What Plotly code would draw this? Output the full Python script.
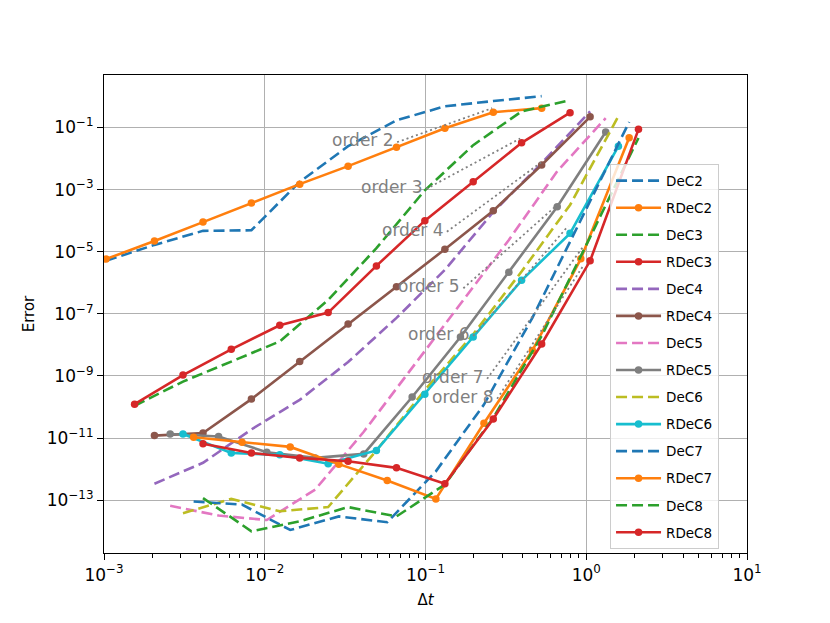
import math
import plotly.graph_objects as go

# time steps (effective dt) per scheme order
dt2 = [0.00103, 0.00206, 0.00413, 0.00826, 0.0165, 0.0330, 0.0660, 0.132, 0.264, 0.528]
dt3 = [0.00155, 0.00310, 0.00619, 0.0124, 0.0248, 0.0495, 0.0991, 0.198, 0.396, 0.793]
dt4 = [0.00206, 0.00413, 0.00826, 0.0165, 0.0330, 0.0660, 0.132, 0.264, 0.528, 1.057]
dt5 = [0.00258, 0.00516, 0.0103, 0.0206, 0.0413, 0.0826, 0.165, 0.330, 0.660, 1.321]
dt6 = [0.00310, 0.00619, 0.0124, 0.0248, 0.0495, 0.0991, 0.198, 0.396, 0.793, 1.585]
dt7 = [0.00361, 0.00722, 0.0144, 0.0289, 0.0578, 0.116, 0.231, 0.462, 0.925, 1.849]
dt8 = [0.00413, 0.00826, 0.0165, 0.0330, 0.0660, 0.132, 0.264, 0.528, 1.057, 2.113]

err_DeC2 = [5.1e-6, 1.66e-5, 4.7e-5, 4.9e-5, 1.78e-3, 2.5e-2, 0.17, 0.48, 0.71, 1.02]
err_RDeC2 = [5.8e-6, 2.2e-5, 9.0e-5, 3.7e-4, 1.5e-3, 5.7e-3, 2.33e-2, 9.5e-2, 0.31, 0.42]
err_DeC3 = [1.1e-10, 6.6e-10, 2.9e-9, 1.3e-8, 2.8e-7, 1.3e-5, 9.5e-4, 2.7e-2, 0.33, 0.76]
err_RDeC3 = [1.23e-10, 1.07e-9, 7.2e-9, 4.3e-8, 1.1e-7, 3.5e-6, 1.0e-4, 1.78e-3, 3.2e-2, 0.30]
err_DeC4 = [3.4e-13, 1.6e-12, 1.9e-11, 1.7e-10, 2.8e-9, 7.4e-8, 2.6e-6, 1.9e-4, 7.1e-3, 0.33]
err_RDeC4 = [1.2e-11, 1.45e-11, 1.8e-10, 2.9e-9, 4.7e-8, 7.4e-7, 1.2e-5, 2.1e-4, 6.2e-3, 0.22]
err_DeC5 = [6.6e-14, 3.2e-14, 2.3e-14, 2.2e-13, 1.6e-11, 1.8e-9, 2.2e-7, 2.4e-5, 3.9e-3, 0.20]
err_RDeC5 = [1.35e-11, 1.12e-11, 3.5e-12, 2.3e-12, 3.1e-12, 2.1e-10, 1.8e-8, 2.2e-6, 2.8e-4, 7.2e-2]
err_DeC6 = [3.8e-14, 1.1e-13, 4.4e-14, 6.0e-14, 4.0e-12, 3.5e-10, 2.2e-8, 2.3e-6, 3.2e-4, 0.23]
err_RDeC6 = [1.35e-11, 3.3e-12, 2.9e-12, 1.5e-12, 4.0e-12, 2.6e-10, 1.8e-8, 1.2e-6, 3.9e-5, 2.5e-2]
err_DeC7 = [9.1e-14, 7.2e-14, 1.1e-14, 3.0e-14, 1.95e-14, 8.5e-13, 1.2e-10, 7.4e-8, 1.05e-4, 0.15]
err_RDeC7 = [1.07e-11, 7.4e-12, 5.2e-12, 1.45e-12, 4.3e-13, 1.1e-13, 3.0e-11, 6.6e-9, 5.9e-6, 4.7e-2]
err_DeC8 = [1.17e-13, 1.0e-14, 2.1e-14, 6.0e-14, 3.0e-14, 3.2e-13, 4.5e-11, 1.95e-8, 2.95e-5, 4.6e-2]
err_RDeC8 = [6.6e-12, 3.3e-12, 2.3e-12, 1.8e-12, 1.1e-12, 3.4e-13, 4.1e-11, 1.07e-8, 5.1e-6, 8.7e-2]

# reference slope lines
ref_labels = ["order 2", "order 3", "order 4", "order 5", "order 6", "order 7", "order 8"]
ref_x0 = [0.0666, 0.101, 0.1358, 0.172, 0.198, 0.2417, 0.279]
ref_x1 = [0.2597, 0.388, 0.529, 0.640, 0.771, 0.956, 0.956]
ref_y0 = [3.37e-2, 1.05e-3, 4.4e-5, 6.65e-7, 1.95e-8, 8.1e-10, 1.84e-10]
ref_y1 = [0.418, 4.43e-2, 7.8e-3, 2.8e-4, 6.7e-5, 1.45e-5, 3.5e-6]

x_tickvals = [1e-3, 1e-2, 1e-1, 1, 10]
x_ticktext = ["10<sup>−3</sup>", "10<sup>−2</sup>", "10<sup>−1</sup>", "10<sup>0</sup>", "10<sup>1</sup>"]
y_tickvals = [1e-13, 1e-11, 1e-9, 1e-7, 1e-5, 1e-3, 1e-1]
y_ticktext = ["10<sup>−13</sup>", "10<sup>−11</sup>", "10<sup>−9</sup>", "10<sup>−7</sup>",
              "10<sup>−5</sup>", "10<sup>−3</sup>", "10<sup>−1</sup>"]
x_minor = [m * d for d in [1e-3, 1e-2, 1e-1, 1] for m in range(2, 10)]

series = [
    ("DeC2", dt2, err_DeC2, "#1f77b4", True),
    ("RDeC2", dt2, err_RDeC2, "#ff7f0e", False),
    ("DeC3", dt3, err_DeC3, "#2ca02c", True),
    ("RDeC3", dt3, err_RDeC3, "#d62728", False),
    ("DeC4", dt4, err_DeC4, "#9467bd", True),
    ("RDeC4", dt4, err_RDeC4, "#8c564b", False),
    ("DeC5", dt5, err_DeC5, "#e377c2", True),
    ("RDeC5", dt5, err_RDeC5, "#7f7f7f", False),
    ("DeC6", dt6, err_DeC6, "#bcbd22", True),
    ("RDeC6", dt6, err_RDeC6, "#17becf", False),
    ("DeC7", dt7, err_DeC7, "#1f77b4", True),
    ("RDeC7", dt7, err_RDeC7, "#ff7f0e", False),
    ("DeC8", dt8, err_DeC8, "#2ca02c", True),
    ("RDeC8", dt8, err_RDeC8, "#d62728", False),
]

fig = go.Figure()
for name, dt, err, color, dashed in series:
    fig.add_trace(go.Scatter(
        x=dt, y=err, name=name, legendgroup=name,
        mode="lines" if dashed else "lines+markers",
        line=dict(color=color, width=2.6, dash="11px,5px" if dashed else "solid"),
        marker=dict(size=7.5, color=color),
    ))

for lab, xa, xb, ya, yb in zip(ref_labels, ref_x0, ref_x1, ref_y0, ref_y1):
    fig.add_trace(go.Scatter(
        x=[xa, xb], y=[ya, yb], mode="lines", showlegend=False,
        line=dict(color="#808080", width=1.8, dash="2px,3px"),
    ))
    fig.add_annotation(x=math.log10(xa), y=math.log10(ya), xref="x", yref="y",
                       text=lab, showarrow=False,
                       xanchor="right", yanchor="middle", xshift=-1, yshift=2,
                       font=dict(size=17, color="#808080", family="DejaVu Sans"))

axis_common = dict(
    type="log", showgrid=True, gridcolor="#b0b0b0", gridwidth=1,
    ticks="outside", ticklen=6, tickwidth=1, tickcolor="black",
    showline=True, mirror=True, linecolor="black", linewidth=1.2,
    zeroline=False, tickfont=dict(size=17, color="black", family="DejaVu Sans"),
)

# the page body adds an 8px offset, so the figure is sized to fit the window
fig.update_layout(
    width=822, height=615,
    margin=dict(l=96, r=83, t=67, b=70),
    paper_bgcolor="white", plot_bgcolor="white",
    font=dict(family="DejaVu Sans", size=15, color="black"),
    xaxis=dict(axis_common, range=[-3, 1], tickmode="array", tickvals=x_tickvals,
               ticktext=x_ticktext,
               minor=dict(tickmode="array", tickvals=x_minor, ticks="outside", ticklen=3.5,
                          tickcolor="black", showgrid=False),
               title=dict(text="Δ<i>t</i>", font=dict(size=15), standoff=10)),
    yaxis=dict(axis_common, range=[-14.70, 0.69], tickmode="array", tickvals=y_tickvals,
               ticktext=y_ticktext,
               title=dict(text="Error", font=dict(size=15), standoff=8)),
    legend=dict(x=0.787, y=0.813, xanchor="left", yanchor="top",
                bgcolor="rgba(255,255,255,0.8)", bordercolor="#cccccc", borderwidth=1,
                font=dict(size=13.5, family="DejaVu Sans"), tracegroupgap=6.5,
                traceorder="grouped", itemwidth=45),
    showlegend=True,
)

fig.write_html("out.html")
